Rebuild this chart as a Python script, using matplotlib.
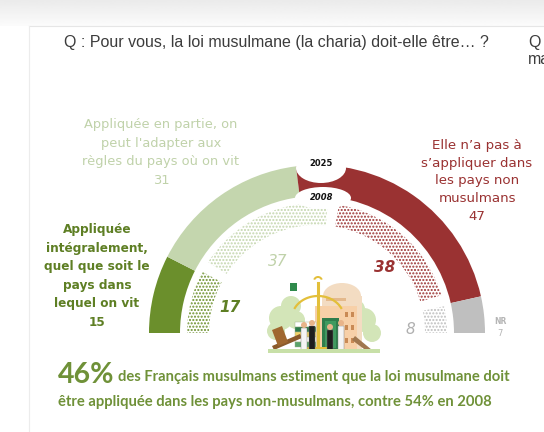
import matplotlib
matplotlib.use("Agg")
import matplotlib.pyplot as plt
import numpy as np
from matplotlib.patches import Wedge, Ellipse, Rectangle, Circle, Polygon

plt.rcParams['hatch.linewidth'] = 1.0

# données
categories = [
    "Appliquée\nintégralement,\nquel que soit le\npays dans\nlequel on vit",
    "Appliquée en partie, on\npeut l'adapter aux\nrègles du pays où on vit",
    "Elle n\u2019a pas à\ns\u2019appliquer dans\nles pays non\nmusulmans",
    "NR",
]
values_2025 = [15, 31, 47, 7]
values_2008 = [17, 37, 38, 8]
years = ["2025", "2008"]

colors = ['#6b8f2c', '#c4d6ae', '#9a3232', '#bfbfbf']
text_colors = ['#5e7f24', '#c0d2aa', '#9a3232', '#b0b0b0']

title = "Q : Pour vous, la loi musulmane (la charia) doit-elle être\u2026 ?"
big_num = "46%"
line1 = "des Français musulmans estiment que la loi musulmane doit"
line2 = "être appliquée dans les pays non-musulmans, contre 54% en 2008"

W, H = 544, 432
fig = plt.figure(figsize=(W / 100, H / 100), dpi=100)
ax = fig.add_axes([0, 0, 1, 1])
ax.set_xlim(0, W)
ax.set_ylim(H, 0)
ax.axis('off')

# fond gris en haut + cadre
grad = np.linspace(0.92, 0.985, 30).reshape(-1, 1)
ax.imshow(grad, cmap='gray', vmin=0, vmax=1, extent=[0, W, 26, 0], aspect='auto', zorder=0)
ax.plot([29, W], [26, 26], color='#e6e6e6', lw=0.8, zorder=1)
ax.plot([29, 29], [26, H], color='#ececec', lw=0.8, zorder=1)

cx, cy = 317, 333


def arc(r, width, a1, a2, **kw):
    # angles visuels (sens trigo), y inversé
    return Wedge((cx, cy), r, -a2, -a1, width=width, **kw)


# 2025 : anneau extérieur
cum = np.concatenate([[0], np.cumsum(values_2025)])
for i, v in enumerate(values_2025):
    a_start = 180 - cum[i] * 1.8
    a_end = 180 - cum[i + 1] * 1.8
    ax.add_patch(arc(168, 31, a_end, a_start, facecolor=colors[i], edgecolor='none', zorder=2))

# 2008 : anneau intérieur pointillé
pad = 2.5
cum8 = np.concatenate([[0], np.cumsum(values_2008)])
for i, v in enumerate(values_2008):
    a_start = 180 - cum8[i] * 1.8 - (pad if i > 0 else 0)
    a_end = 180 - cum8[i + 1] * 1.8 + (pad if i < len(values_2008) - 1 else 0)
    ax.add_patch(arc(130, 22, a_end, a_start, facecolor='white', edgecolor=colors[i],
                     hatch='.....', linewidth=0, zorder=2))

# encoches des années
ax.add_patch(Ellipse((321, 168), 50, 30, facecolor='white', edgecolor='none', zorder=3))
ax.add_patch(Ellipse((323, 198), 56, 22, facecolor='white', edgecolor='none', zorder=3))
ax.text(321, 163, years[0], ha='center', va='center', fontsize=6, fontweight='bold',
        color='#111111', zorder=4)
ax.text(322, 197, years[1], ha='center', va='center', fontsize=6, fontweight='bold',
        style='italic', color='#111111', zorder=4)

# libellés 2025
ax.text(97, 329, categories[0] + "\n" + str(values_2025[0]), va='bottom', ha='center',
        family='DejaVu Sans', fontsize=8.7, linespacing=1.56,
        color=text_colors[0], fontweight='bold', zorder=4)
ax.text(161, 187, categories[1] + "\n" + str(values_2025[1]), va='bottom', ha='center',
        family='DejaVu Sans', fontsize=9.4, linespacing=1.57,
        color=text_colors[1], zorder=4)
ax.text(477, 223, categories[2] + "\n" + str(values_2025[2]), va='bottom', ha='center',
        family='DejaVu Sans', fontsize=9.6, linespacing=1.48,
        color=text_colors[2], zorder=4)
ax.text(500, 322, categories[3], ha='center', va='center', fontsize=5.5,
        fontweight='bold', color='#b5b5b5')
ax.text(500, 334, str(values_2025[3]), ha='center', va='center', fontsize=6,
        color='#b5b5b5')

# valeurs 2008
pos_2008 = [(230, 307), (278, 262), (385, 267), (410, 330)]
weights = ['bold', 'normal', 'bold', 'normal']
for (x, y), v, c, w in zip(pos_2008, values_2008, text_colors, weights):
    ax.text(x, y, str(v), ha='center', va='center', fontsize=11, style='italic',
            fontweight=w, color=c, family='DejaVu Sans', zorder=4)

# illustration simplifiée au centre
z = 5
for (x, y, r) in [(281, 318, 12), (291, 306, 10), (276, 331, 9), (296, 320, 9)]:
    ax.add_patch(Circle((x, y), r, facecolor='#d3e5b8', edgecolor='none', zorder=z))
for (x, y, r) in [(364, 320, 12), (372, 333, 9), (356, 309, 9)]:
    ax.add_patch(Circle((x, y), r, facecolor='#d3e5b8', edgecolor='none', zorder=z))
ax.add_patch(Ellipse((342, 296), 38, 26, facecolor='#f3dcc2', edgecolor='none', zorder=z))
ax.add_patch(Rectangle((322, 296), 40, 54, facecolor='#f3dcc2', edgecolor='none', zorder=z))
ax.add_patch(Rectangle((326, 298), 20, 3, facecolor='#e4b98c', edgecolor='none', zorder=z + 1))
ax.add_patch(Rectangle((315, 306), 42, 44, facecolor='#f7d0a8', edgecolor='none', zorder=z + 1))
for wx in [345, 351]:
    for wy in [312, 325, 338]:
        ax.add_patch(Rectangle((wx, wy), 3, 5, facecolor='#c98a55', edgecolor='none', zorder=z + 2))
ax.add_patch(Rectangle((322, 318), 17, 32, facecolor='#2f7d4c', edgecolor='none', zorder=z + 2))
ax.add_patch(Rectangle((325, 321), 11, 27, facecolor='#3f9a5f', edgecolor='none', zorder=z + 2))
# balance
ax.plot([318, 318], [283, 350], color='#e3bf3a', lw=2.2, zorder=z + 3)
tt = np.linspace(0.15 * np.pi, 0.85 * np.pi, 30)
ax.plot(318 + 26 * np.cos(tt), 318 - 22 * np.sin(tt), color='#e3bf3a', lw=1.6, zorder=z + 3)
ax.add_patch(Wedge((318, 281), 5, 200, 340, width=2, facecolor='#e3bf3a', edgecolor='none', zorder=z + 3))
ax.add_patch(Rectangle((306, 347), 24, 4, facecolor='#e3bf3a', edgecolor='none', zorder=z + 3))
# livres
for i, c in enumerate(['#ffffff', '#2f7d4c', '#f2d46b', '#ffffff', '#5aa36a']):
    ax.add_patch(Rectangle((295, 322 + i * 5), 21, 5, facecolor=c, edgecolor='#9fb08a', lw=0.3, zorder=z + 4))
# marteau
ax.add_patch(Polygon([[272, 346], [300, 334], [302, 338], [274, 350]], closed=True,
                     facecolor='#8b5a2b', edgecolor='none', zorder=z + 4))
ax.add_patch(Polygon([[272, 330], [282, 326], [288, 342], [278, 346]], closed=True,
                     facecolor='#a0672f', edgecolor='none', zorder=z + 5))
ax.add_patch(Polygon([[355, 336], [372, 350], [368, 352], [352, 340]], closed=True,
                     facecolor='#a0774f', edgecolor='none', zorder=z + 4))
# personnages
for (x, top, c) in [(304, 328, '#f4f4f4'), (312, 326, '#1e1e1e'), (330, 330, '#1e1e1e'), (341, 326, '#f4f4f4')]:
    ax.add_patch(Rectangle((x - 3, top), 6, 350 - top, facecolor=c, edgecolor='#777777', lw=0.3, zorder=z + 6))
    ax.add_patch(Circle((x, top - 3), 3, facecolor='#e8b48a', edgecolor='none', zorder=z + 6))
ax.add_patch(Rectangle((290, 283), 7, 8, facecolor='#2f8a4c', edgecolor='none', zorder=z + 4))
ax.add_patch(Rectangle((268, 349), 112, 4, facecolor='#c8e0a8', edgecolor='none', zorder=z + 7))

# titres
ax.text(64, 43, title, ha='left', va='center', fontsize=11.5, family='Liberation Sans',
        color='#3c3c3c')
ax.text(528, 43, "Q", ha='left', va='center', fontsize=11.5, family='Liberation Sans', color='#3c3c3c')
ax.text(528, 60, "ma", ha='left', va='center', fontsize=11.5, family='Liberation Sans', color='#3c3c3c')

# texte du bas
ax.text(58, 383, big_num, ha='left', va='baseline', fontsize=20.5, fontweight='bold',
        family='Lato', color='#6f9138')
ax.text(118, 381, line1, ha='left', va='baseline', fontsize=10.6, fontweight='bold',
        family='Lato', color='#6f9138')
ax.text(58, 406, line2, ha='left', va='baseline', fontsize=10.6, fontweight='bold',
        family='Lato', color='#6f9138')

fig.savefig("out.png", dpi=100)
